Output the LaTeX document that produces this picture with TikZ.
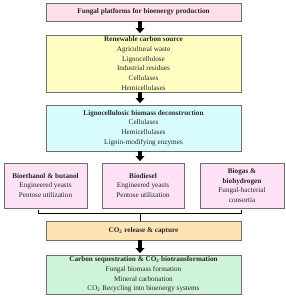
\documentclass[tikz,border=0pt]{standalone}
\usepackage{fontspec}
\setmainfont{Liberation Serif}
\usetikzlibrary{arrows.meta}
\definecolor{cTop}{HTML}{FDE0EA}
\definecolor{cYel}{HTML}{FFFEC2}
\definecolor{cCyan}{HTML}{D8FCFD}
\definecolor{cLav}{HTML}{FDE2F6}
\definecolor{cPeach}{HTML}{FEE4B4}
\definecolor{cGreen}{HTML}{CFF3D6}
\definecolor{cEdge}{HTML}{6E6E6E}
\definecolor{cTxt}{HTML}{262626}
\begin{document}
\begin{tikzpicture}[x=1pt,y=-1pt,
  box/.style={draw=cEdge,line width=0.8pt,inner sep=0pt,align=center,
    font=\fontsize{7.2}{9.7}\selectfont,text=cTxt},
  bigarrow/.style={line width=3.2pt,-{Triangle[width=8.5pt,length=5pt]},shorten >=1.5pt},
  brace/.style={line width=0.8pt,black}]
\useasboundingbox (0,0) rectangle (286,300);
\node[box,fill=cTop,minimum width=195pt,minimum height=18pt] (top) at (143.5,12)
  {\textbf{Fungal platforms for bioenergy production}};
\node[box,fill=cYel,minimum width=195pt,minimum height=57pt] (src) at (143.5,63.5)
  {\textbf{Renewable carbon source}\\Agricultural waste\\Lignocellulose\\Industrial residues\\Cellulases\\Hemicellulases};
\node[box,fill=cCyan,minimum width=195pt,minimum height=46pt] (dec) at (143.5,128)
  {\textbf{Lignocellulosic biomass deconstruction}\\Cellulases\\Hemicellulases\\Lignin-modifying enzymes};
\node[box,fill=cLav,minimum width=83pt,minimum height=45pt] (eth) at (45.5,185.5)
  {\textbf{Bioethanol \& butanol}\\Engineered yeasts\\Pentose utilization};
\node[box,fill=cLav,minimum width=82pt,minimum height=45pt] (die) at (143,185.5)
  {\textbf{Biodiesel}\\Engineered yeasts\\Pentose utilization};
\node[box,fill=cLav,minimum width=84pt,minimum height=45pt] (gas) at (242,185.5)
  {\textbf{Biogas \&}\\\textbf{biohydrogen}\\Fungal-bacterial\\consortia};
\node[box,fill=cPeach,minimum width=195pt,minimum height=19pt] (co2) at (143.5,230.5)
  {\textbf{CO\textsubscript{2} release \& capture}};
\node[box,fill=cGreen,minimum width=195pt,minimum height=39pt] (seq) at (143.5,274.5)
  {\textbf{Carbon sequestration \& CO\textsubscript{2} biotransformation}\\Fungal biomass formation\\Mineral carbonation\\CO\textsubscript{2} Recycling into bioenergy systems};
\draw[bigarrow] (top.south -| 140,0) -- (src.north -| 140,0);
\draw[bigarrow] (src.south -| 140,0) -- (dec.north -| 140,0);
\draw[bigarrow] (dec.south -| 140,0) -- (die.north -| 140,0);
\draw[bigarrow] (co2.south -| 140,0) -- (seq.north -| 140,0);
\coordinate (bl) at (38,213);
\coordinate (br) at (241,213);
\coordinate (bm) at (140,213);
\draw[brace] ([yshift=3pt]bl) -- (bl) -- (br) -- ([yshift=3pt]br);
\draw[brace] (bm) -- (co2.north -| bm);
\end{tikzpicture}
\end{document}
